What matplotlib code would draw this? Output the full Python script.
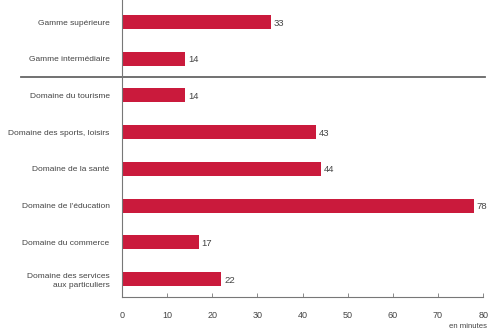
import matplotlib
matplotlib.use("Agg")
import matplotlib.pyplot as plt

categories = [
    "Gamme supérieure",
    "Gamme intermédiaire",
    "Domaine du tourisme",
    "Domaine des sports, loisirs",
    "Domaine de la santé",
    "Domaine de l'éducation",
    "Domaine du commerce",
    "Domaine des services\naux particuliers",
]
values = [33, 14, 14, 43, 44, 78, 17, 22]
xticks = [0, 10, 20, 30, 40, 50, 60, 70, 80]

bar_color = "#ca1a3c"
text_color = "#444444"
plt.rcParams["font.family"] = ["Liberation Sans", "DejaVu Sans"]

fig = plt.figure(figsize=(4.9, 3.33), dpi=100)
ax = fig.add_axes([0.249, 0.108, 0.737, 0.892])

pos = list(range(len(categories)))
ax.barh(pos, values, height=0.38, color=bar_color)
for p, v in zip(pos, values):
    ax.text(v + 0.6, p + 0.03, str(v), va="center", ha="left", fontsize=6.8, color=text_color)

ax.set_ylim(len(categories) - 1 + 0.49, -0.6)
ax.set_xlim(0, 80)
ax.set_yticks(pos)
ax.set_yticklabels(categories, fontsize=6.0, color=text_color, linespacing=1.45)
ax.set_xticks(xticks)
ax.set_xticklabels([str(t) for t in xticks], fontsize=6.5, color=text_color)
ax.tick_params(axis="y", length=0, pad=9)
ax.tick_params(axis="x", direction="in", length=3, width=0.6, color="#777777", pad=10)

for side in ("top", "right"):
    ax.spines[side].set_visible(False)
for side in ("left", "bottom"):
    ax.spines[side].set_color("#777777")
    ax.spines[side].set_linewidth(0.8)

# separator between the "gamme" group and the "domaine" group
ax.plot([-0.28, 1.005], [1.5, 1.5], transform=ax.get_yaxis_transform(),
        color="#666666", linewidth=1.3, clip_on=False)

fig.text(0.994, 0.008, "en minutes", ha="right", va="bottom", fontsize=5.6, color=text_color)

fig.savefig("out.png", dpi=100)
